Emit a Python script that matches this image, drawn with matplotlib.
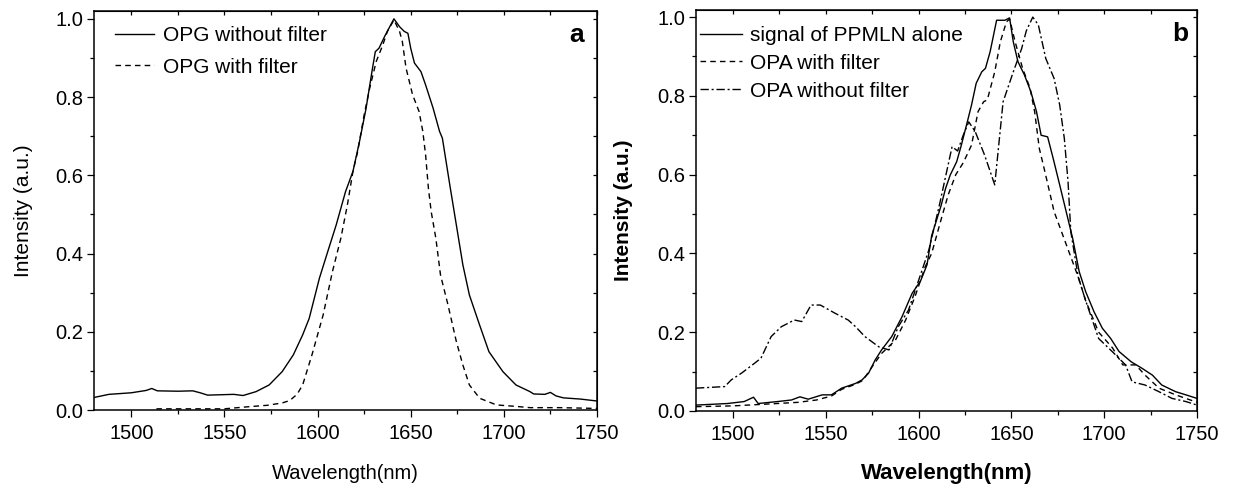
import numpy as np
import matplotlib
matplotlib.use("Agg")
import matplotlib.pyplot as plt
from matplotlib.ticker import MultipleLocator

plt.rcParams['font.family'] = ['Liberation Sans', 'DejaVu Sans']

# ---- panel a : OPG spectra ----
wl_a_nofilter = [1480, 1488, 1500, 1508, 1511, 1514, 1525, 1533, 1537, 1541, 1548, 1555, 1560,
                 1567, 1574, 1581, 1587, 1592, 1595.5, 1601, 1606, 1610, 1615, 1619, 1622.5,
                 1626, 1629.5, 1631, 1633, 1636, 1641, 1644, 1646.5, 1648.5, 1650, 1652,
                 1655.5, 1658, 1662, 1665.5, 1667, 1671, 1674.5, 1678, 1681.5, 1687, 1692,
                 1699.5, 1706.5, 1714, 1716, 1722, 1725, 1728, 1732, 1741, 1750]
int_a_nofilter = [0.032, 0.040, 0.044, 0.050, 0.055, 0.049, 0.048, 0.049, 0.044, 0.038, 0.039,
                  0.040, 0.037, 0.047, 0.064, 0.098, 0.141, 0.192, 0.234, 0.337, 0.413, 0.473,
                  0.558, 0.610, 0.686, 0.770, 0.874, 0.916, 0.925, 0.955, 1.000, 0.980, 0.968,
                  0.963, 0.925, 0.887, 0.865, 0.831, 0.772, 0.712, 0.695, 0.575, 0.473, 0.371,
                  0.294, 0.217, 0.149, 0.098, 0.064, 0.047, 0.041, 0.040, 0.045, 0.036, 0.031,
                  0.028, 0.023]

wl_a_filter = [1513.5, 1530, 1550, 1562, 1573, 1581, 1585, 1589, 1592, 1597, 1603, 1608, 1612.5,
               1616, 1619, 1621.5, 1625, 1628, 1631.5, 1635, 1637.5, 1641, 1644, 1645.5, 1647.5,
               1651, 1654.5, 1656.5, 1658, 1659.5, 1661, 1663.5, 1666, 1670, 1674.5, 1678,
               1681.5, 1687, 1696, 1707, 1714, 1730, 1750]
int_a_filter = [0.003, 0.003, 0.003, 0.008, 0.012, 0.018, 0.024, 0.040, 0.064, 0.141, 0.243,
                0.354, 0.439, 0.524, 0.610, 0.660, 0.754, 0.823, 0.891, 0.933, 0.968, 0.997,
                0.968, 0.942, 0.874, 0.806, 0.763, 0.712, 0.652, 0.567, 0.507, 0.439, 0.345,
                0.269, 0.175, 0.115, 0.064, 0.030, 0.013, 0.009, 0.006, 0.006, 0.004]

# ---- panel b : PPMLN signal and OPA spectra ----
wl_b_ppmln = [1480, 1497, 1506, 1511, 1513.5, 1524, 1531.5, 1536, 1540.5, 1548, 1553, 1558.5,
              1566, 1569.5, 1573, 1576.5, 1580, 1585.5, 1591, 1596.5, 1601, 1604.5, 1607, 1612,
              1614.5, 1617, 1620.5, 1623, 1626, 1628.5, 1631, 1634, 1636, 1638.5, 1640, 1642,
              1646.5, 1649, 1651, 1653.5, 1657, 1660.5, 1663.5, 1666, 1669.5, 1672.5, 1676,
              1679.5, 1683, 1686.5, 1690, 1694.5, 1699, 1703.5, 1708, 1714.5, 1720.5, 1726,
              1731, 1738.5, 1744, 1750]
int_b_ppmln = [0.015, 0.019, 0.024, 0.035, 0.019, 0.024, 0.028, 0.036, 0.030, 0.041, 0.041,
               0.058, 0.070, 0.079, 0.096, 0.129, 0.155, 0.189, 0.239, 0.299, 0.330, 0.371,
               0.445, 0.520, 0.565, 0.599, 0.633, 0.675, 0.730, 0.777, 0.832, 0.861, 0.870,
               0.912, 0.946, 0.992, 0.992, 0.998, 0.937, 0.887, 0.853, 0.810, 0.760, 0.700,
               0.696, 0.641, 0.574, 0.506, 0.438, 0.354, 0.303, 0.252, 0.210, 0.184, 0.151,
               0.125, 0.108, 0.091, 0.066, 0.049, 0.041, 0.032]

wl_b_filter = [1480, 1500, 1512, 1520, 1535, 1545, 1553, 1558.5, 1566, 1570, 1575, 1580, 1587.5,
               1593, 1598, 1603.5, 1607, 1612.5, 1616, 1620, 1624, 1628.5, 1632, 1635, 1637,
               1641, 1644, 1647.3, 1649, 1652, 1656, 1660, 1662.5, 1665, 1668, 1673, 1677,
               1686, 1690, 1697, 1704.5, 1710, 1717, 1722, 1729.5, 1738.5, 1750]
int_b_filter = [0.011, 0.013, 0.016, 0.018, 0.022, 0.028, 0.038, 0.055, 0.068, 0.078, 0.113,
                0.146, 0.180, 0.231, 0.290, 0.366, 0.400, 0.493, 0.550, 0.600, 0.630, 0.675,
                0.760, 0.785, 0.790, 0.861, 0.937, 0.988, 0.995, 0.937, 0.870, 0.820, 0.760,
                0.667, 0.608, 0.506, 0.455, 0.340, 0.280, 0.200, 0.160, 0.117, 0.117, 0.091,
                0.058, 0.041, 0.022]

wl_b_nofilter = [1480, 1495.5, 1499, 1504.5, 1511.5, 1515, 1520.5, 1526, 1533, 1537, 1542, 1547,
                 1555, 1562, 1566, 1571, 1578.5, 1584, 1589, 1594.5, 1600, 1605.5, 1611, 1614.5,
                 1618, 1621, 1624, 1627, 1630.5, 1635.5, 1641, 1645.5, 1651, 1655.5, 1658,
                 1661.5, 1664.5, 1668.5, 1673, 1676, 1678.5, 1680.5, 1682, 1686, 1690, 1697,
                 1704.5, 1711.5, 1715, 1722, 1729.5, 1736.5, 1744, 1750]
int_b_nofilter = [0.058, 0.062, 0.079, 0.096, 0.121, 0.134, 0.189, 0.214, 0.231, 0.227, 0.269,
                  0.269, 0.248, 0.231, 0.214, 0.189, 0.163, 0.155, 0.214, 0.256, 0.332, 0.409,
                  0.519, 0.595, 0.671, 0.660, 0.700, 0.734, 0.709, 0.650, 0.574, 0.785, 0.861,
                  0.920, 0.965, 1.000, 0.980, 0.895, 0.844, 0.777, 0.692, 0.582, 0.455, 0.340,
                  0.280, 0.184, 0.150, 0.117, 0.074, 0.066, 0.049, 0.032, 0.024, 0.015]


def style_axes(ax, top):
    ax.set_xlim(1480, 1750)
    ax.set_ylim(0, top)
    ax.xaxis.set_major_locator(MultipleLocator(50))
    ax.xaxis.set_minor_locator(MultipleLocator(25))
    ax.yaxis.set_major_locator(MultipleLocator(0.2))
    ax.yaxis.set_minor_locator(MultipleLocator(0.1))
    ax.tick_params(which='major', direction='out', length=5, width=0.9, labelsize=14.5)
    ax.tick_params(which='minor', direction='out', length=3, width=0.9)
    ax.tick_params(axis='x', pad=5)
    ax.tick_params(axis='y', pad=3)
    for s in ax.spines.values():
        s.set_linewidth(1.1)
    # mirrored ticks on top/right pointing inward, no labels
    sx = ax.secondary_xaxis('top')
    sx.set_xticks(np.arange(1500, 1751, 25), labels=[])
    sx.tick_params(direction='in', length=3, width=0.9)
    sy = ax.secondary_yaxis('right')
    sy.set_yticks(np.arange(0.1, 1.01, 0.1), labels=[])
    sy.tick_params(direction='in', length=3, width=0.9)


fig = plt.figure(figsize=(12.33, 4.91), dpi=100)
ax1 = fig.add_axes([94 / 1233, 1 - 410 / 491, 503 / 1233, 399 / 491])
ax2 = fig.add_axes([696 / 1233, 1 - 411 / 491, 501 / 1233, 401 / 491])

ax1.plot(wl_a_nofilter, int_a_nofilter, color='black', lw=1.0, label='OPG without filter')
ax1.plot(wl_a_filter, int_a_filter, color='black', lw=1.0, ls=(0, (4, 3)), label='OPG with filter')
style_axes(ax1, 1.02)
ax1.set_xlabel('Wavelength(nm)', fontsize=14.5)
ax1.set_ylabel('Intensity (a.u.)', fontsize=15)
ax1.xaxis.set_label_coords(0.5, -0.135)
ax1.yaxis.set_label_coords(-0.121, 0.5)
ax1.text(0.960, 0.94, 'a', transform=ax1.transAxes, fontsize=19, fontweight='bold',
         ha='center', va='center')
ax1.legend(loc='upper left', bbox_to_anchor=(0.042, 0.962), frameon=False, fontsize=15,
           handlelength=1.85, handletextpad=0.45, labelspacing=0.6, borderpad=0, borderaxespad=0)

ax2.plot(wl_b_ppmln, int_b_ppmln, color='black', lw=1.0, label='signal of PPMLN alone')
ax2.plot(wl_b_filter, int_b_filter, color='black', lw=1.0, ls=(0, (4, 3)), label='OPA with filter')
ax2.plot(wl_b_nofilter, int_b_nofilter, color='black', lw=1.0, ls=(0, (6, 2, 1.5, 2)),
         label='OPA without filter')
style_axes(ax2, 1.018)
ax2.set_xlabel('Wavelength(nm)', fontsize=16, fontweight='bold')
ax2.set_ylabel('Intensity (a.u.)', fontsize=15, fontweight='bold')
ax2.xaxis.set_label_coords(0.5, -0.13)
ax2.yaxis.set_label_coords(-0.125, 0.5)
ax2.text(0.966, 0.94, 'b', transform=ax2.transAxes, fontsize=19, fontweight='bold',
         ha='center', va='center')
ax2.legend(loc='upper left', bbox_to_anchor=(0.008, 0.96), frameon=False, fontsize=15,
           handlelength=2.0, handletextpad=0.4, labelspacing=0.42, borderpad=0, borderaxespad=0)

fig.savefig('out.png', dpi=100)
